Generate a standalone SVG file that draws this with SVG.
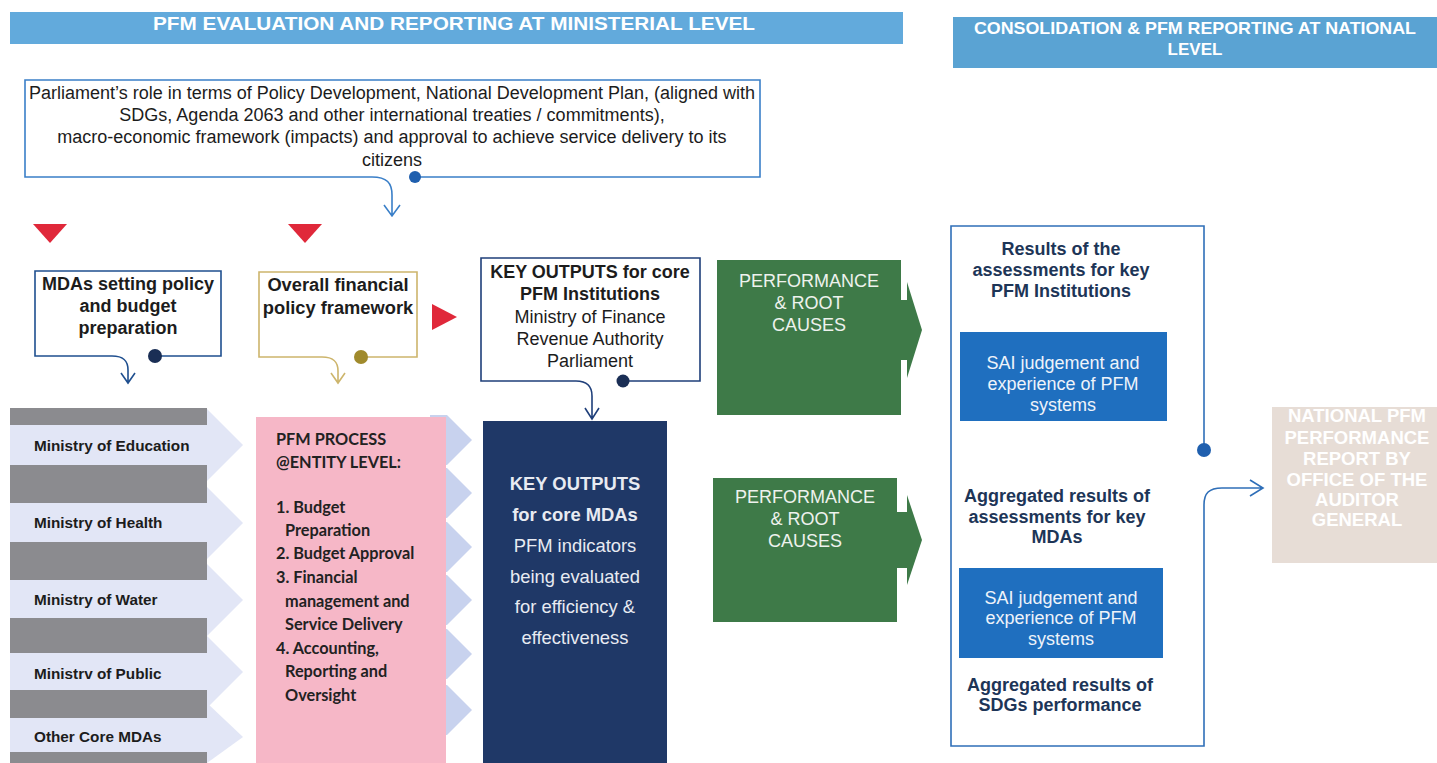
<svg xmlns="http://www.w3.org/2000/svg" width="1437" height="763" viewBox="0 0 1437 763">
<defs>
<style>
.t{font-family:"Liberation Sans",Arial,sans-serif;}
.b{font-weight:bold;}
.hdr{fill:#fff;font-weight:bold;font-family:"Liberation Sans",Arial,sans-serif;}
.dk{fill:#1c1c1c;}
.nv{fill:#1d3557;}
.cal{font-family:Lato,"Open Sans",sans-serif;font-weight:bold;font-size:16.3px;fill:#222;}
.min{font-family:"Liberation Sans",Arial,sans-serif;font-weight:bold;font-size:15.3px;fill:#1c1c1c;}
.band{fill:#8b8b8f;}
.chev{fill:#e2e6f6;}
.pchev{fill:#c8d2ee;}
.tri{fill:#e0283a;}
.arr{fill:none;stroke-width:1.6;}
</style>
</defs>
<rect width="1437" height="763" fill="#ffffff"/>

<g id="header-ministerial">
<rect x="10" y="12" width="893" height="32" fill="#62aadc"/>
<text class="hdr" x="454" y="30" font-size="19" text-anchor="middle" textLength="602" lengthAdjust="spacingAndGlyphs">PFM EVALUATION AND REPORTING AT MINISTERIAL LEVEL</text>
</g>

<g id="header-national">
<rect x="953" y="17" width="484" height="51" fill="#5aa3d3"/>
<text class="hdr" x="1195" y="34" font-size="17" text-anchor="middle" textLength="442" lengthAdjust="spacingAndGlyphs">CONSOLIDATION &amp; PFM REPORTING AT NATIONAL</text>
<text class="hdr" x="1195" y="55" font-size="17" text-anchor="middle">LEVEL</text>
</g>

<g id="parliament">
<path d="M372,177 L25,177 L25,80 L760,80 L760,177 L415,177" fill="none" stroke="#3a7fc8" stroke-width="1.6"/>
<g class="t dk" font-size="18" text-anchor="middle">
<text x="392" y="99">Parliament’s role in terms of Policy Development, National Development Plan, (aligned with</text>
<text x="392" y="121">SDGs, Agenda 2063 and other international treaties / commitments),</text>
<text x="392" y="143">macro-economic framework (impacts) and approval to achieve service delivery to its</text>
<text x="392" y="166">citizens</text>
</g>
</g>

<g id="markers">
<polygon class="tri" points="33,224 67,224 50,243"/>
<polygon class="tri" points="288,224 322,224 305,243"/>
<polygon class="tri" points="432,304 432,330 457,317"/>
</g>

<g id="mdas-policy">
<path d="M112,356 L35,356 L35,271 L221,271 L221,356 L155,356" fill="none" stroke="#1f4f8f" stroke-width="1.6"/>
<g class="t b dk" font-size="18" text-anchor="middle">
<text x="128" y="290">MDAs setting policy</text>
<text x="128" y="312">and budget</text>
<text x="128" y="334">preparation</text>
</g>
</g>

<g id="financial-policy">
<path d="M322,357 L259,357 L259,272 L417,272 L417,357 L361,357" fill="none" stroke="#cdb56c" stroke-width="1.6"/>
<g class="t b dk" font-size="18.3" text-anchor="middle">
<text x="338" y="291">Overall financial</text>
<text x="338" y="314">policy framework</text>
</g>
</g>

<g id="key-outputs-pfm">
<path d="M576,381 L481,381 L481,258 L700,258 L700,381 L623,381" fill="none" stroke="#1f3f7a" stroke-width="1.6"/>
<g class="t dk" font-size="18" text-anchor="middle">
<text x="590" y="278" class="b">KEY OUTPUTS for core</text>
<text x="590" y="300" class="b">PFM Institutions</text>
<text x="590" y="323">Ministry of Finance</text>
<text x="590" y="345">Revenue Authority</text>
<text x="590" y="367">Parliament</text>
</g>
</g>

<g id="ministries">
<polygon class="chev" points="10,409 207,409 243,445 207,481 10,481"/>
<polygon class="chev" points="10,487 207,487 243,523 207,559 10,559"/>
<polygon class="chev" points="10,564 207,564 243,600 207,636 10,636"/>
<polygon class="chev" points="10,636 207,636 243,672 207,708 10,708"/>
<polygon class="chev" points="10,703 207,703 243,737 207,763 10,763"/>
<rect class="chev" x="10" y="425" width="197" height="40"/>
<rect class="chev" x="10" y="503" width="197" height="39"/>
<rect class="chev" x="10" y="580" width="197" height="38"/>
<rect class="chev" x="10" y="653" width="197" height="37"/>
<rect class="chev" x="10" y="718" width="197" height="34"/>
<rect class="band" x="10" y="408" width="197" height="17"/>
<rect class="band" x="10" y="465" width="197" height="38"/>
<rect class="band" x="10" y="542" width="197" height="38"/>
<rect class="band" x="10" y="618" width="197" height="35"/>
<rect class="band" x="10" y="690" width="197" height="28"/>
<rect class="band" x="10" y="752" width="197" height="11"/>
<text class="min" x="34" y="451">Ministry of Education</text>
<text class="min" x="34" y="528">Ministry of Health</text>
<text class="min" x="34" y="605">Ministry of Water</text>
<text class="min" x="34" y="679">Ministrv of Public</text>
<text class="min" x="34" y="742">Other Core MDAs</text>
</g>

<g id="pfm-process">
<polygon class="pchev" points="430,415 447,415 472,440 447,465 430,465"/>
<polygon class="pchev" points="430,468 447,468 472,493 447,518 430,518"/>
<polygon class="pchev" points="430,522 447,522 472,547 447,572 430,572"/>
<polygon class="pchev" points="430,575 447,575 472,600 447,625 430,625"/>
<polygon class="pchev" points="430,629 447,629 472,654 447,679 430,679"/>
<polygon class="pchev" points="430,685 447,685 472,710 447,735 430,735"/>
<rect x="256" y="417" width="190" height="346" fill="#f6b7c7"/>
<text class="cal" x="276" y="445">PFM PROCESS</text>
<text class="cal" x="276" y="468">@ENTITY LEVEL:</text>
<text class="cal" x="276" y="513">1. Budget</text>
<text class="cal" x="285" y="536">Preparation</text>
<text class="cal" x="276" y="559">2. Budget Approval</text>
<text class="cal" x="276" y="583">3. Financial</text>
<text class="cal" x="285" y="607">management and</text>
<text class="cal" x="285" y="630">Service Delivery</text>
<text class="cal" x="276" y="654">4. Accounting,</text>
<text class="cal" x="285" y="677">Reporting and</text>
<text class="cal" x="285" y="701">Oversight</text>
</g>

<g id="key-outputs-mdas">
<rect x="483" y="421" width="184" height="342" fill="#1f3867"/>
<g class="t" font-size="18.4" text-anchor="middle" fill="#e8ebf2">
<text x="575" y="490" class="b">KEY OUTPUTS</text>
<text x="575" y="521" class="b">for core MDAs</text>
<text x="575" y="552">PFM indicators</text>
<text x="575" y="583">being evaluated</text>
<text x="575" y="613">for efficiency &amp;</text>
<text x="575" y="644">effectiveness</text>
</g>
</g>

<g id="performance-1">
<rect x="717" y="260" width="184" height="155" fill="#3e7a48"/>
<polygon points="900,300 907,300 907,282 922,330 907,378 907,360 900,360" fill="#3e7a48"/>
<g class="t" font-size="18" text-anchor="middle" fill="#eef2ee">
<text x="809" y="287">PERFORMANCE</text>
<text x="809" y="309">&amp; ROOT</text>
<text x="809" y="331">CAUSES</text>
</g>
</g>

<g id="performance-2">
<rect x="713" y="478" width="184" height="144" fill="#3e7a48"/>
<polygon points="896,512 907,512 907,495 922,540 907,585 907,568 896,568" fill="#3e7a48"/>
<g class="t" font-size="18" text-anchor="middle" fill="#eef2ee">
<text x="805" y="503">PERFORMANCE</text>
<text x="805" y="525">&amp; ROOT</text>
<text x="805" y="547">CAUSES</text>
</g>
</g>

<g id="results-panel">
<path d="M1204,450 L1204,226 L951,226 L951,746 L1204,746 L1204,505" fill="none" stroke="#2f6fb8" stroke-width="1.6"/>
<g class="t b nv" font-size="18" text-anchor="middle">
<text x="1061" y="255">Results of the</text>
<text x="1061" y="276">assessments for key</text>
<text x="1061" y="297">PFM Institutions</text>
<text x="1057" y="502">Aggregated results of</text>
<text x="1057" y="523">assessments for key</text>
<text x="1057" y="543">MDAs</text>
<text x="1060" y="691">Aggregated results of</text>
<text x="1060" y="711">SDGs performance</text>
</g>
</g>

<g id="sai-1">
<rect x="960" y="332" width="207" height="89" fill="#1f6fbf"/>
<g class="t" font-size="18" text-anchor="middle" fill="#eef3fa">
<text x="1063" y="369">SAI judgement and</text>
<text x="1063" y="390">experience of PFM</text>
<text x="1063" y="411">systems</text>
</g>
</g>

<g id="sai-2">
<rect x="959" y="568" width="204" height="90" fill="#1f6fbf"/>
<g class="t" font-size="18" text-anchor="middle" fill="#eef3fa">
<text x="1061" y="604">SAI judgement and</text>
<text x="1061" y="624">experience of PFM</text>
<text x="1061" y="645">systems</text>
</g>
</g>

<g id="national-report">
<rect x="1272" y="407" width="165" height="156" fill="#e7ddd6"/>
<g class="t b" font-size="18.5" text-anchor="middle" fill="#ffffff">
<text x="1357" y="422">NATIONAL PFM</text>
<text x="1357" y="444">PERFORMANCE</text>
<text x="1357" y="465">REPORT BY</text>
<text x="1357" y="486">OFFICE OF THE</text>
<text x="1357" y="506">AUDITOR</text>
<text x="1357" y="526">GENERAL</text>
</g>
</g>

<g id="connectors">
<path class="arr" d="M372,177 C387,177 392,183 392,195 L392,215 M384,205 L392,216 L400,205" stroke="#3a7fc8"/>
<circle cx="415" cy="177" r="6" fill="#1f5fae"/>
<path class="arr" d="M112,356 C124,356 128,361 128,370 L128,382 M121,373 L128,383 L135,373" stroke="#1f4f8f"/>
<circle cx="155" cy="356" r="7" fill="#1a2e55"/>
<path class="arr" d="M322,357 C334,357 338,362 338,371 L338,382 M331,373 L338,383 L345,373" stroke="#cdb56c"/>
<circle cx="361" cy="357" r="7" fill="#a08a2c"/>
<path class="arr" d="M576,381 C588,381 592,387 592,396 L592,418 M585,408 L592,419 L599,408" stroke="#1f3f7a"/>
<circle cx="623" cy="381" r="6.5" fill="#1a2e55"/>
<path class="arr" d="M1204,505 C1204,493 1209,488 1222,488 L1262,488 M1250,480 L1263,488 L1250,496" stroke="#2f6fb8"/>
<circle cx="1204" cy="450" r="7" fill="#1f5fae"/>
</g>
</svg>
